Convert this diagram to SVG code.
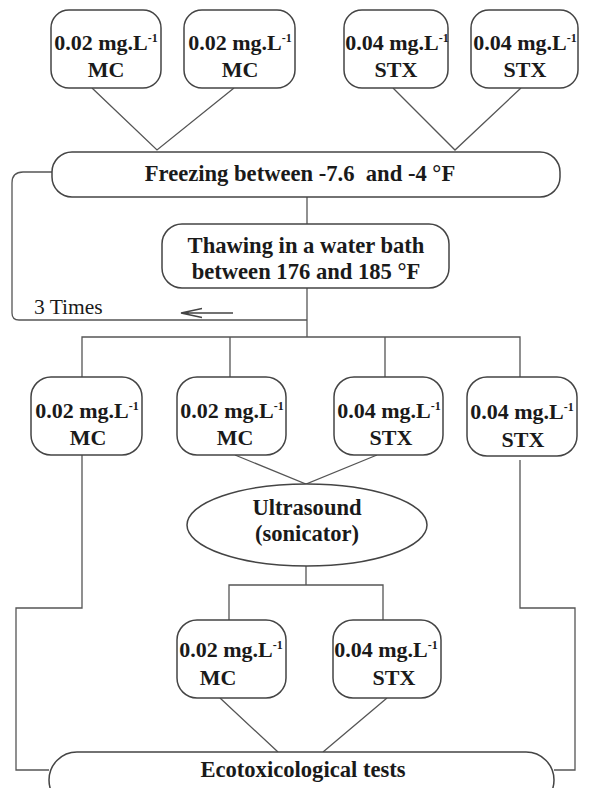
<svg xmlns="http://www.w3.org/2000/svg" width="589" height="788" viewBox="0 0 589 788">
<style>
.box{fill:#fff;stroke:#444;stroke-width:1.5}
.ln{fill:none;stroke:#555;stroke-width:1.3}
.t{font-family:"Liberation Serif","Times New Roman",serif;font-weight:bold;font-size:22px;fill:#1a1a1a;text-anchor:middle}
.b{font-size:22.6px}
.s{font-size:12px}
.n{font-family:"Liberation Serif","Times New Roman",serif;font-size:21.5px;fill:#1a1a1a}
</style>
<rect width="589" height="788" fill="#fff"/>
<g id="connectors">
<path class="ln" d="M92,88 L157,150 L234,88"/>
<path class="ln" d="M393,88 L455,150 L521,88"/>
<path class="ln" d="M307,197 V224"/>
<path class="ln" d="M52,172 H23 Q12,172 12,183 V313 Q12,320 19,320 H307"/>
<path class="ln" d="M307,288 V337"/>
<path class="ln" d="M82,377 V337 H520 V377 M230,337 V377 M385,337 V377"/>
<path class="ln" d="M235,455 L306,484 L377,455"/>
<path class="ln" d="M82,455 V608 H16 V770 H49"/>
<path class="ln" d="M520,460 V608 H575 V770 H554"/>
<path class="ln" d="M306,566 V585 M229,620 V585 H383 V620"/>
<path class="ln" d="M220,698 L278,752 M387,698 L323,752"/>
<path fill="none" stroke="#444" stroke-width="1.3" d="M233,313 H181 M202,308.5 L181,313 L202,317.5"/>
</g>
<g id="n1"><rect class="box" x="51" y="10" width="110" height="78" rx="18"/><text class="t" x="106" y="50">0.02 mg.L<tspan class="s" dy="-8">-1</tspan></text><text class="t" x="106" y="77">MC</text></g>
<g id="n2"><rect class="box" x="184" y="10" width="111" height="78" rx="18"/><text class="t" x="240" y="50">0.02 mg.L<tspan class="s" dy="-8">-1</tspan></text><text class="t" x="240" y="77">MC</text></g>
<g id="n3"><rect class="box" x="344" y="10" width="104" height="78" rx="18"/><text class="t" x="397" y="50">0.04 mg.L<tspan class="s" dy="-8">-1</tspan></text><text class="t" x="396" y="77">STX</text></g>
<g id="n4"><rect class="box" x="471" y="10" width="107" height="78" rx="18"/><text class="t" x="525" y="50">0.04 mg.L<tspan class="s" dy="-8">-1</tspan></text><text class="t" x="525" y="77">STX</text></g>
<g id="freezing"><rect class="box" x="52" y="152" width="508" height="45" rx="20"/><text class="t b" x="300" y="181" xml:space="preserve">Freezing between -7.6  and -4 °F</text></g>
<g id="thawing"><rect class="box" x="162" y="224" width="287" height="64" rx="20"/><text class="t b" x="306" y="253">Thawing in a water bath</text><text class="t b" x="306" y="279">between 176 and 185 °F</text></g>
<g id="label3"><text class="n" x="34" y="314">3 Times</text></g>
<g id="m1"><rect class="box" x="31" y="377" width="111" height="78" rx="20"/><text class="t" x="87" y="418">0.02 mg.L<tspan class="s" dy="-8">-1</tspan></text><text class="t" x="88" y="445">MC</text></g>
<g id="m2"><rect class="box" x="177" y="377" width="109" height="78" rx="20"/><text class="t" x="232" y="418">0.02 mg.L<tspan class="s" dy="-8">-1</tspan></text><text class="t" x="235" y="445">MC</text></g>
<g id="m3"><rect class="box" x="334" y="377" width="109" height="78" rx="20"/><text class="t" x="389" y="418">0.04 mg.L<tspan class="s" dy="-8">-1</tspan></text><text class="t" x="391" y="445">STX</text></g>
<g id="m4"><rect class="box" x="467" y="377" width="110" height="79" rx="20"/><text class="t" x="522" y="419">0.04 mg.L<tspan class="s" dy="-8">-1</tspan></text><text class="t" x="523" y="447">STX</text></g>
<g id="ultrasound"><ellipse class="box" cx="307" cy="525" rx="120" ry="41"/><text class="t b" x="307" y="515">Ultrasound</text><text class="t b" x="307" y="541">(sonicator)</text></g>
<g id="b1"><rect class="box" x="177" y="620" width="109" height="78" rx="20"/><text class="t" x="231" y="657">0.02 mg.L<tspan class="s" dy="-8">-1</tspan></text><text class="t" x="218" y="685">MC</text></g>
<g id="b2"><rect class="box" x="333" y="620" width="108" height="78" rx="20"/><text class="t" x="386" y="657">0.04 mg.L<tspan class="s" dy="-8">-1</tspan></text><text class="t" x="394" y="685">STX</text></g>
<g id="ecotox"><rect class="box" x="49" y="752" width="505" height="56" rx="28"/><text class="t b" x="303" y="777">Ecotoxicological tests</text></g>
</svg>
